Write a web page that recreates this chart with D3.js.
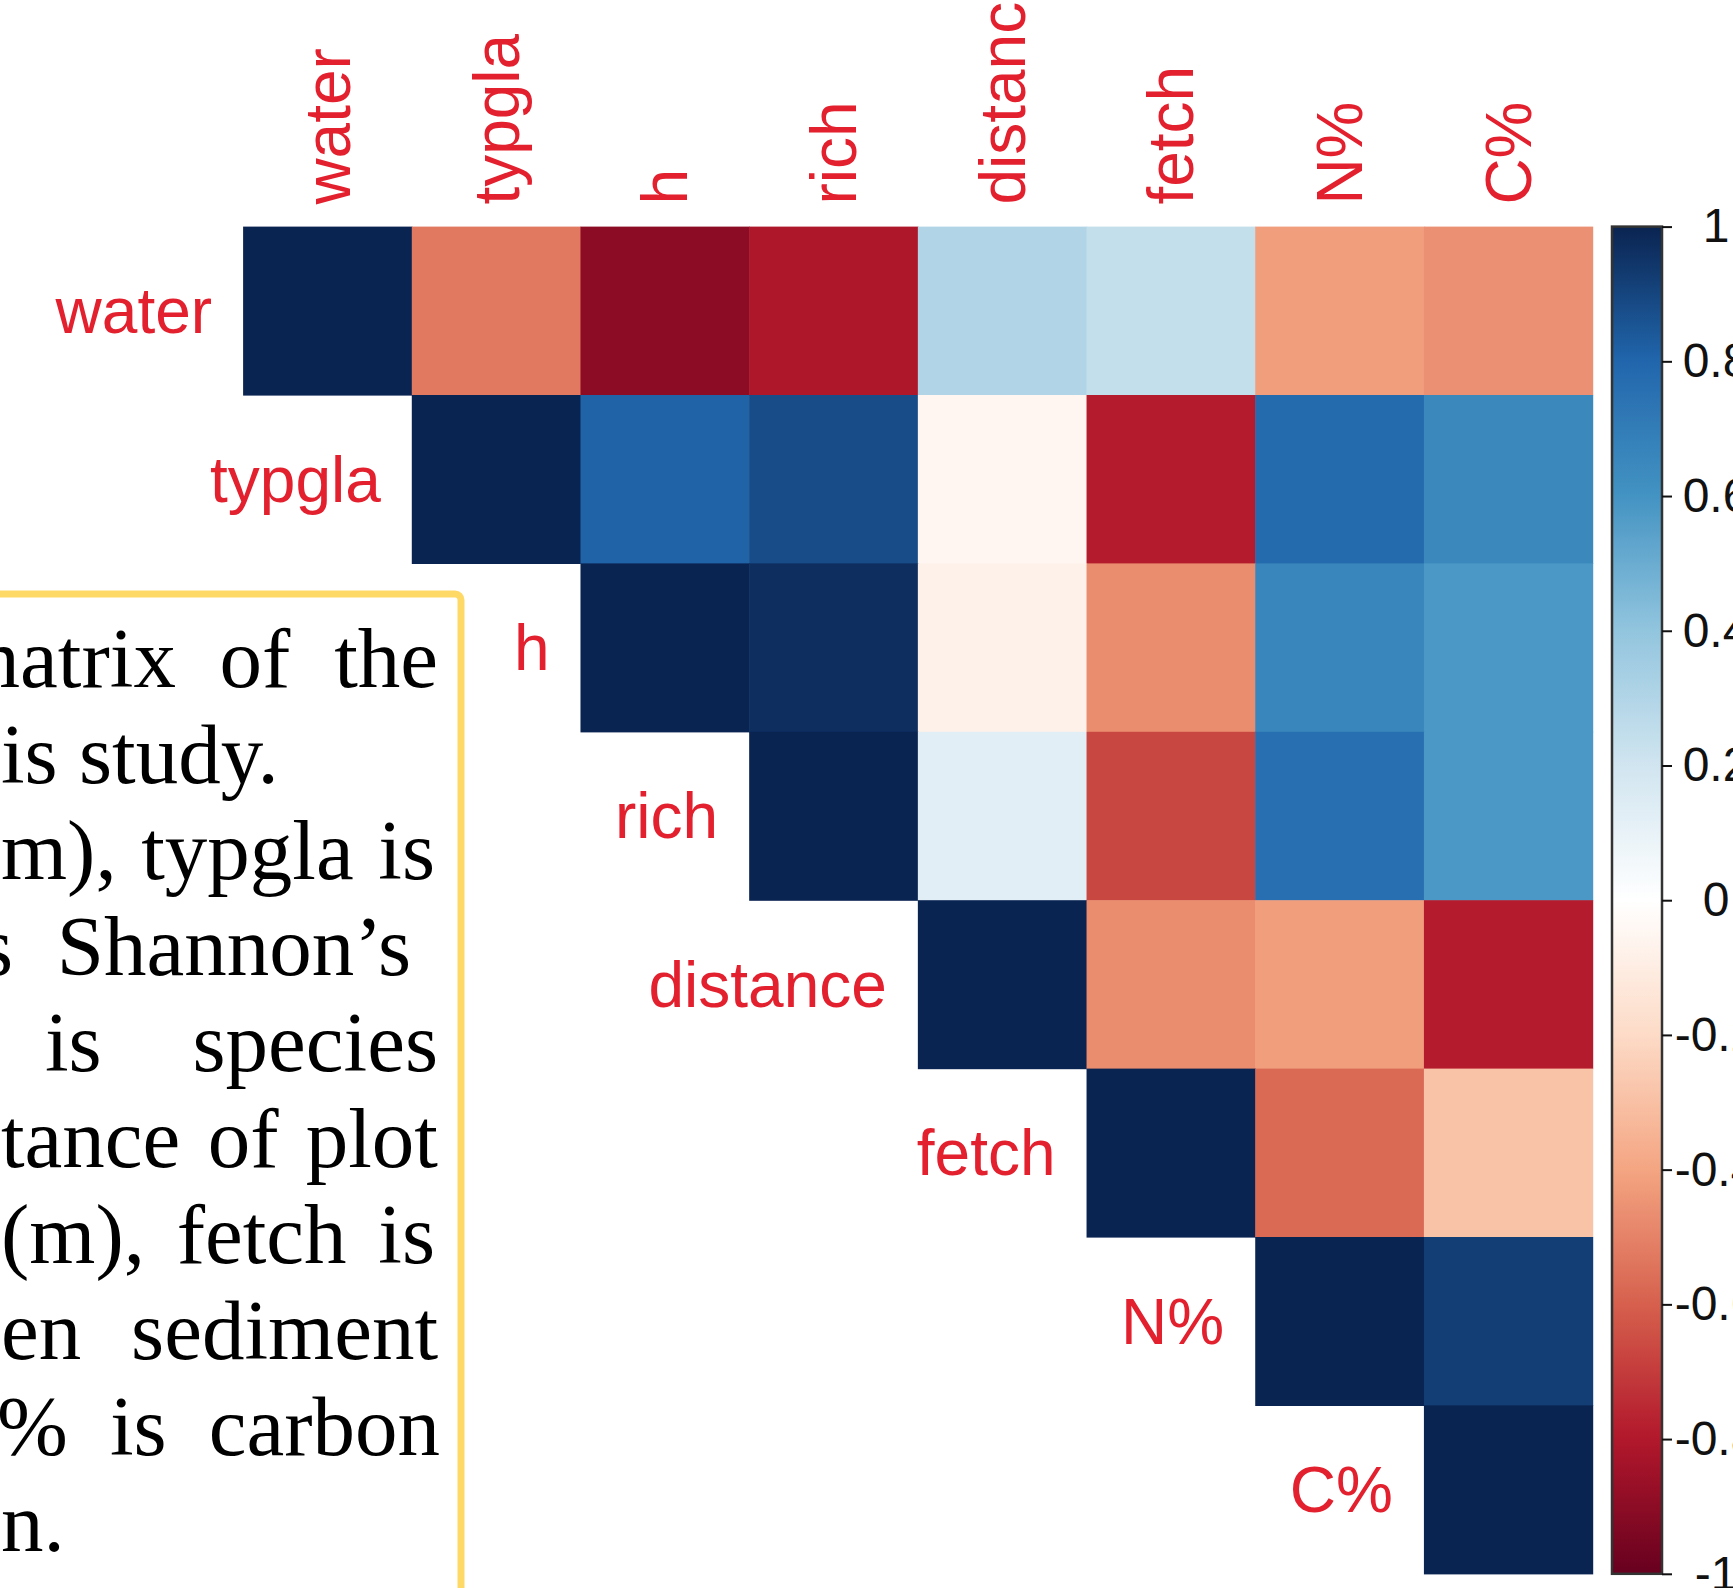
<!DOCTYPE html>
<html><head><meta charset="utf-8">
<script src="https://cdn.jsdelivr.net/npm/d3@7"></script>
<style>html,body{margin:0;padding:0;background:#fff;overflow:hidden}</style>
</head><body>
<svg id="chart" width="1733" height="1588"></svg>
<script>
// ---- data ----
const variables = ["water","typgla","h","rich","distance","fetch","N%","C%"];
// upper-triangle correlations, each row starts at its diagonal
const corWater    = [1, -0.53, -0.90, -0.81, 0.30, 0.24, -0.42, -0.46];
const corTypgla   = [1, 0.81, 0.88, -0.05, -0.79, 0.78, 0.65];
const corH        = [1, 0.97, -0.08, -0.47, 0.66, 0.58];
const corRich     = [1, 0.13, -0.67, 0.76, 0.58];
const corDistance = [1, -0.47, -0.42, -0.79];
const corFetch    = [1, -0.57, -0.29];
const corN        = [1, 0.92];
const corC        = [1];
const colorbarTicks = [1, 0.8, 0.6, 0.4, 0.2, 0, -0.2, -0.4, -0.6, -0.8, -1];
const colorbarTickLabels = ["1","0.8","0.6","0.4","0.2","0","-0.2","-0.4","-0.6","-0.8","-1"];
const rdbu = ["#67001F","#B2182B","#D6604D","#F4A582","#FDDBC7","#FFFFFF","#D1E5F0","#92C5DE","#4393C3","#2166AC","#0A2451"];
const captionLines = ["matrix of the","is study.","m), typgla is","s Shannon\u2019s","is species","tance of plot","(m), fetch is","en sediment","% is carbon","n."];

// ---- layout ----
const svg = d3.select("#chart");
const M = {left: 243.1, right: 1592.6, top: 226.6, bottom: 1573.8};
const labelColor = "#E3202E";

const x = d3.scaleBand().domain(variables).range([M.left, M.right]).padding(0);
const y = d3.scaleBand().domain(variables).range([M.top, M.bottom]).padding(0);
const color = d3.scaleLinear()
  .domain(d3.range(rdbu.length).map(i => -1 + i * 2 / (rdbu.length - 1)))
  .range(rdbu).interpolate(d3.interpolateRgb).clamp(true);

const rows = [corWater, corTypgla, corH, corRich, corDistance, corFetch, corN, corC];
const cells = [];
rows.forEach((row, i) => row.forEach((v, k) => cells.push({r: variables[i], c: variables[i + k], v})));

// caption box (behind)
const captionLayout = [
  {x0: -46, x1: 438}, {x0: 1, x1: null}, {x0: 1, x1: 435}, {x0: -20, x1: 411},
  {x0: 45, x1: 438}, {x0: 1, x1: 438}, {x0: 1, x1: 435}, {x0: 1, x1: 438},
  {x0: -3, x1: 440}, {x0: 1, x1: null}
];
svg.append("rect").attr("x", -20).attr("y", 594).attr("width", 481).attr("height", 1100)
  .attr("rx", 6).attr("fill", "#fff").attr("stroke", "#FFD966").attr("stroke-width", 7);

const capG = svg.append("g").attr("font-family", "'Liberation Serif', 'Times New Roman', serif")
  .attr("font-size", 85).attr("fill", "#000");
captionLines.forEach((t, i) => {
  const L = captionLayout[i];
  const el = capG.append("text").attr("x", L.x0).attr("y", 687 + i * 96).text(t);
  if (L.x1 !== null) {
    const w = el.node().getComputedTextLength();
    const n = (t.match(/ /g) || []).length;
    if (n > 0) el.attr("word-spacing", Math.max(0, (L.x1 - L.x0 - w) / n));
  }
});

// cells
svg.append("g").selectAll("rect").data(cells).join("rect")
  .attr("x", d => x(d.c)).attr("y", d => y(d.r))
  .attr("width", x.bandwidth() + 0.6).attr("height", y.bandwidth() + 0.6)
  .attr("fill", d => color(d.v));

// row labels
const lab = svg.append("g").attr("font-family", "'Liberation Sans', Arial, sans-serif")
  .attr("font-size", 64).attr("fill", labelColor);
lab.selectAll("text.row").data(variables).join("text").attr("class", "row")
  .attr("x", d => x(d) - 31).attr("y", d => y(d) + y.bandwidth() / 2)
  .attr("dy", "0.35em").attr("text-anchor", "end").text(d => d);
// column labels
lab.selectAll("text.col").data(variables).join("text").attr("class", "col")
  .attr("transform", d => `translate(${x(d) + x.bandwidth() / 2},${M.top - 22}) rotate(-90)`)
  .attr("dy", "0.35em").attr("text-anchor", "start").text(d => d);

// colorbar
const cb = {x0: 1612, x1: 1662};
const cbScale = d3.scaleLinear().domain([-1, 1]).range([M.bottom, M.top]);
const defs = svg.append("defs");
const grad = defs.append("linearGradient").attr("id", "cbgrad")
  .attr("x1", 0).attr("y1", 1).attr("x2", 0).attr("y2", 0);
grad.selectAll("stop").data(d3.range(0, 1.0001, 0.02)).join("stop")
  .attr("offset", d => d).attr("stop-color", d => color(-1 + 2 * d));
svg.append("rect").attr("x", cb.x0).attr("y", M.top).attr("width", cb.x1 - cb.x0)
  .attr("height", M.bottom - M.top).attr("fill", "url(#cbgrad)")
  .attr("stroke", "#333").attr("stroke-width", 2.5);

const axis = d3.axisRight(cbScale).tickValues(colorbarTicks)
  .tickFormat((d, i) => colorbarTickLabels[i]).tickSize(10).tickPadding(10);
const ag = svg.append("g").attr("transform", `translate(${cb.x1},0)`).call(axis);
ag.select(".domain").remove();
ag.selectAll(".tick line").attr("stroke", "#111").attr("stroke-width", 2);
ag.selectAll(".tick text").attr("x", 54).attr("text-anchor", "middle")
  .attr("font-family", "'Liberation Sans', Arial, sans-serif").attr("font-size", 48).attr("fill", "#111");
</script>
</body></html>
